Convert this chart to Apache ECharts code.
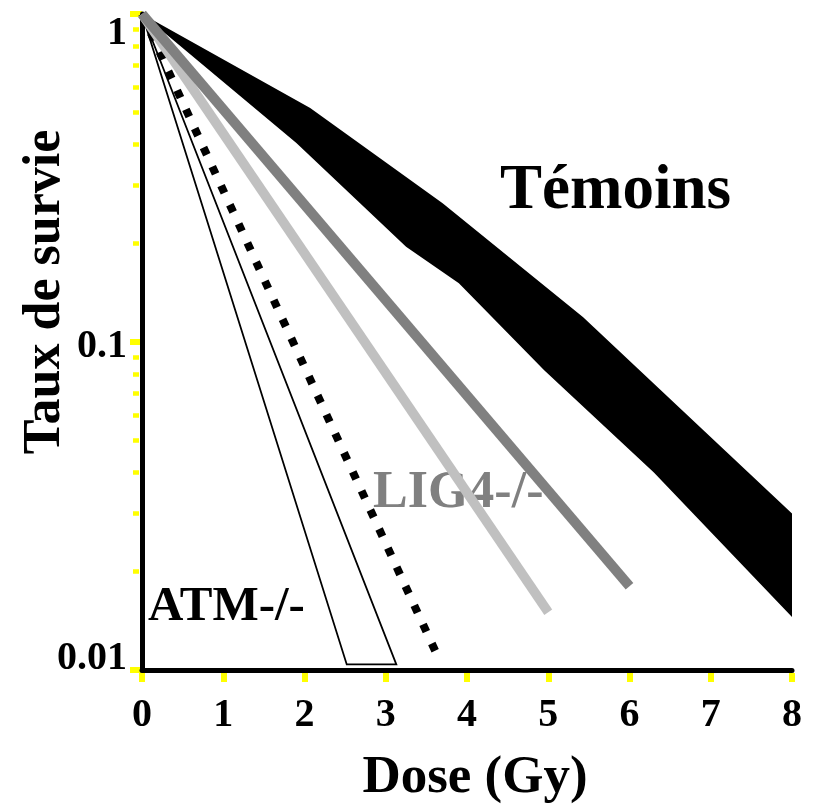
<!DOCTYPE html>
<html>
<head>
<meta charset="utf-8">
<script src="https://cdn.jsdelivr.net/npm/echarts@6/dist/echarts.min.js"></script>
<style>
html,body{margin:0;padding:0;background:#fff;}
#chart{width:817px;height:805px;}
</style>
</head>
<body>
<div id="chart"></div>
<script>
// ---- data (dose in Gy, survival fraction) ----
const xTickValues = [0, 1, 2, 3, 4, 5, 6, 7, 8];
const yTickLabels = ['0.01', '0.1', '1'];
const yMinorTicks = [0.02, 0.03, 0.04, 0.05, 0.06, 0.07, 0.08, 0.09, 0.2, 0.3, 0.4, 0.5, 0.6, 0.7, 0.8, 0.9];

const temoinsUpperDose = [0, 2.07, 3.7, 5.43, 8];
const temoinsUpperSurv = [1, 0.517, 0.265, 0.119, 0.030];
const temoinsLowerDose = [0, 1.9, 3.25, 3.9, 4.95, 6.3, 8];
const temoinsLowerSurv = [1, 0.404, 0.195, 0.151, 0.082, 0.040, 0.0145];

const darkGrayDose = [0, 6];
const darkGraySurv = [1, 0.018];
const lightGrayDose = [0, 5];
const lightGraySurv = [1, 0.015];
const dottedDose = [0, 3.64];
const dottedSurv = [1, 0.011];

const atmLeftDose = [0, 2.52];
const atmLeftSurv = [1, 0.0104];
const atmRightDose = [0, 3.13];
const atmRightSurv = [1, 0.0104];

const labelTemoins = 'Témoins';
const labelLig4 = 'LIG4-/-';
const labelAtm = 'ATM-/-';
const xName = 'Dose (Gy)';
const yName = 'Taux de survie';

// ---- build ----
const zip = (a, b) => a.map((v, i) => [v, b[i]]);
const FONT = 'Liberation Serif';

function polygonRender(upper, lower, style) {
  return function (params, api) {
    const pts = upper.map(p => api.coord(p)).concat(lower.slice().reverse().map(p => api.coord(p)));
    return { type: 'polygon', shape: { points: pts }, style: style };
  };
}

const chart = echarts.init(document.getElementById('chart'), null, { renderer: 'canvas' });

const yLabelFmt = function (v) {
  const e = Math.round(Math.log10(v));
  if (e === 0) return '{a|' + yTickLabels[2] + '}';
  if (e === -1) return '{b|' + yTickLabels[1] + '}';
  return '{c|' + yTickLabels[0] + '}';
};
const lblBase = { fontFamily: FONT, fontWeight: 'bold', fontSize: 40, color: '#000' };

const option = {
  backgroundColor: '#fff',
  animation: false,
  grid: { left: 142, right: 25, top: 14, bottom: 135, containLabel: false, outerBoundsMode: 'none' },
  xAxis: [
    {
      type: 'value', position: 'bottom', min: 0, max: 8, interval: 1,
      axisLine: { show: true, lineStyle: { color: '#000', width: 5 } },
      axisTick: { show: false },
      splitLine: { show: false },
      axisLabel: { margin: 26, fontFamily: FONT, fontWeight: 'bold', fontSize: 40, color: '#000',
        formatter: v => String(xTickValues[xTickValues.indexOf(v)]) },
      name: xName, nameLocation: 'middle', nameGap: 82, nameMoveOverlap: false,
      nameTextStyle: { fontFamily: FONT, fontWeight: 'bold', fontSize: 53, color: '#000', padding: [0, 0, 0, 16] },
      z: 5
    },
    {
      type: 'value', position: 'bottom', min: 0, max: 8, interval: 1, offset: 3,
      axisLine: { show: false },
      axisTick: { show: true, length: 9, lineStyle: { color: '#ffff00', width: 6 } },
      axisLabel: { show: false },
      splitLine: { show: false },
      z: 4
    }
  ],
  yAxis: [
    {
      type: 'log', position: 'left', logBase: 10, min: 0.01, max: 1, interval: 1,
      axisLine: { show: true, lineStyle: { color: '#000', width: 5 } },
      axisTick: { show: false },
      splitLine: { show: false },
      minorTick: { show: false },
      axisLabel: {
        margin: 15, formatter: yLabelFmt,
        rich: {
          a: Object.assign({}, lblBase, { padding: [40, 0, 0, 0] }),
          b: Object.assign({}, lblBase, { padding: [10, 0, 0, 0] }),
          c: Object.assign({}, lblBase, { padding: [0, 0, 22, 0] })
        }
      },
      name: yName, nameLocation: 'middle', nameRotate: 90, nameGap: 70, nameMoveOverlap: false,
      nameTextStyle: { fontFamily: FONT, fontWeight: 'bold', fontSize: 52, color: '#000', padding: [0, 0, 0, 100] },
      z: 5
    },
    {
      type: 'log', position: 'left', logBase: 10, min: 0.01, max: 1, interval: 1, offset: 3,
      axisLine: { show: false },
      axisTick: { show: true, length: 12, lineStyle: { color: '#ffff00', width: 6 } },
      axisLabel: { show: false },
      splitLine: { show: false },
      z: 4
    },
    {
      type: 'log', position: 'left', logBase: 10, min: 0.01, max: 1, interval: 1, offset: 3,
      axisLine: { show: false },
      axisTick: { show: true, length: 6, customValues: yMinorTicks, lineStyle: { color: '#ffff00', width: 4.5 } },
      axisLabel: { show: false },
      splitLine: { show: false },
      z: 4
    }
  ],
  graphic: [
    { type: 'text', left: 373, top: 468, z: 0, zlevel: 0,
      style: { text: labelLig4, font: 'bold 52px "Liberation Serif"', fill: '#808080' } },
    { type: 'text', left: 500, top: 160, z: 100,
      style: { text: labelTemoins, font: 'bold 63px "Liberation Serif"', fill: '#000' } },
    { type: 'text', left: 148, top: 583, z: 100,
      style: { text: labelAtm, font: 'bold 49px "Liberation Serif"', fill: '#000' } }
  ],
  series: [
    {
      name: labelTemoins, type: 'custom', coordinateSystem: 'cartesian2d', xAxisIndex: 0, yAxisIndex: 0,
      data: [[0, 1]], clip: false, z: 2,
      renderItem: polygonRender(zip(temoinsUpperDose, temoinsUpperSurv), zip(temoinsLowerDose, temoinsLowerSurv),
        { fill: '#000', stroke: null })
    },
    {
      name: labelAtm, type: 'custom', coordinateSystem: 'cartesian2d', xAxisIndex: 0, yAxisIndex: 0,
      data: [[0, 1]], clip: false, z: 3,
      renderItem: polygonRender(zip(atmLeftDose, atmLeftSurv), zip(atmRightDose, atmRightSurv),
        { fill: '#fff', stroke: '#000', lineWidth: 1.8 })
    },
    {
      type: 'line', xAxisIndex: 0, yAxisIndex: 0, data: zip(dottedDose, dottedSurv),
      showSymbol: false, symbol: 'none', clip: false, z: 4,
      lineStyle: { color: '#000', width: 8, type: [8, 13], cap: 'butt' }
    },
    {
      type: 'line', xAxisIndex: 0, yAxisIndex: 0, data: zip(lightGrayDose, lightGraySurv),
      showSymbol: false, symbol: 'none', clip: false, z: 5,
      lineStyle: { color: '#c0c0c0', width: 9.5, cap: 'butt' }
    },
    {
      type: 'line', name: labelLig4, xAxisIndex: 0, yAxisIndex: 0, data: zip(darkGrayDose, darkGraySurv),
      showSymbol: false, symbol: 'none', clip: false, z: 6,
      lineStyle: { color: '#808080', width: 10, cap: 'butt' }
    }
  ]
};
chart.setOption(option);
</script>
</body>
</html>
